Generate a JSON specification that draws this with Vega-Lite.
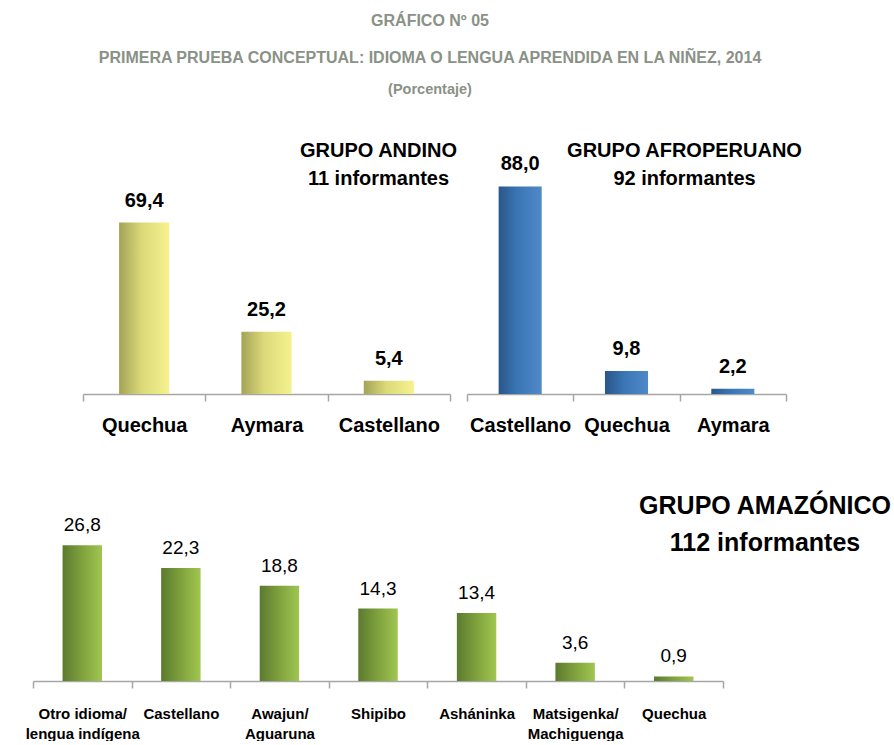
{
  "$schema": "https://vega.github.io/schema/vega-lite/v6.json",
  "background": "white",
  "padding": {"left": 25, "top": 12, "right": 0, "bottom": 0},
  "datasets": {
    "andino": [
      {"idioma": "Quechua", "porcentaje": 69.4},
      {"idioma": "Aymara", "porcentaje": 25.2},
      {"idioma": "Castellano", "porcentaje": 5.4}
    ],
    "afro": [
      {"idioma": "Castellano", "porcentaje": 88.0},
      {"idioma": "Quechua", "porcentaje": 9.8},
      {"idioma": "Aymara", "porcentaje": 2.2}
    ],
    "amazonico": [
      {"idioma": "Otro idioma/ lengua indígena", "porcentaje": 26.8},
      {"idioma": "Castellano", "porcentaje": 22.3},
      {"idioma": "Awajun/ Aguaruna", "porcentaje": 18.8},
      {"idioma": "Shipibo", "porcentaje": 14.3},
      {"idioma": "Asháninka", "porcentaje": 13.4},
      {"idioma": "Matsigenka/ Machiguenga", "porcentaje": 3.6},
      {"idioma": "Quechua", "porcentaje": 0.9}
    ]
  },
  "title": {
    "text": ["GRÁFICO Nº 05", "PRIMERA PRUEBA CONCEPTUAL: IDIOMA O LENGUA APRENDIDA EN LA NIÑEZ, 2014"],
    "subtitle": "(Porcentaje)",
    "font": "Liberation Sans, sans-serif",
    "fontSize": 16,
    "fontWeight": "bold",
    "color": "#8a9186",
    "lineHeight": 37,
    "subtitleFont": "Liberation Sans, sans-serif",
    "subtitleFontSize": 14.5,
    "subtitleFontWeight": "bold",
    "subtitleColor": "#8a9186",
    "subtitlePadding": 17,
    "anchor": "middle",
    "frame": "group",
    "dx": 397,
    "offset": 45
  },
  "spacing": 59,
  "vconcat": [
    {
      "spacing": 8,
      "hconcat": [
        {
          "width": 41,
          "height": 247,
          "data": {"values": [{"v": 0}]},
          "mark": {"type": "point", "opacity": 0},
          "encoding": {}
        },
        {
          "width": 367,
          "height": 247,
          "data": {"name": "andino"},
          "title": {
            "text": ["GRUPO ANDINO", "11 informantes"],
            "font": "Liberation Sans, sans-serif",
            "fontSize": 20,
            "fontWeight": "bold",
            "color": "#000000",
            "lineHeight": 28,
            "anchor": "middle",
            "frame": "group",
            "baseline": "top",
            "offset": 0,
            "dx": 112,
            "dy": 42
          },
          "encoding": {
            "x": {
              "field": "idioma",
              "type": "nominal",
              "sort": null,
              "scale": {"paddingInner": 0, "paddingOuter": 0},
              "axis": {"title": null, "labelFontSize": 20, "labelPadding": 14}
            },
            "y": {
              "field": "porcentaje",
              "type": "quantitative",
              "scale": {"domain": [0, 100]},
              "axis": null
            }
          },
          "layer": [
            {
              "mark": {
                "type": "bar",
                "width": {"band": 0.41},
                "color": {
                  "gradient": "linear", "x1": 0, "y1": 0, "x2": 1, "y2": 0,
                  "stops": [
                    {"offset": 0, "color": "#a3a356"},
                    {"offset": 0.45, "color": "#dcd97a"},
                    {"offset": 1, "color": "#f5f28e"}
                  ]
                }
              }
            },
            {
              "mark": {
                "type": "text",
                "baseline": "alphabetic",
                "dy": -16,
                "font": "Liberation Sans, sans-serif",
                "fontSize": 20,
                "fontWeight": "bold",
                "color": "#000000"
              },
              "encoding": {"text": {"field": "porcentaje", "type": "quantitative", "format": ".1f", "formatType": "number"}}
            }
          ]
        },
        {
          "width": 319,
          "height": 247,
          "data": {"name": "afro"},
          "title": {
            "text": ["GRUPO AFROPERUANO", "92 informantes"],
            "font": "Liberation Sans, sans-serif",
            "fontSize": 20,
            "fontWeight": "bold",
            "color": "#000000",
            "lineHeight": 28,
            "anchor": "middle",
            "frame": "group",
            "baseline": "top",
            "offset": 0,
            "dx": 58,
            "dy": 42
          },
          "encoding": {
            "x": {
              "field": "idioma",
              "type": "nominal",
              "sort": null,
              "scale": {"paddingInner": 0, "paddingOuter": 0},
              "axis": {"title": null, "labelFontSize": 20, "labelPadding": 14}
            },
            "y": {
              "field": "porcentaje",
              "type": "quantitative",
              "scale": {"domain": [0, 104.7]},
              "axis": null
            }
          },
          "layer": [
            {
              "mark": {
                "type": "bar",
                "width": {"band": 0.405},
                "color": {
                  "gradient": "linear", "x1": 0, "y1": 0, "x2": 1, "y2": 0,
                  "stops": [
                    {"offset": 0, "color": "#2b5689"},
                    {"offset": 0.45, "color": "#3a76b6"},
                    {"offset": 1, "color": "#5089c8"}
                  ]
                }
              }
            },
            {
              "mark": {
                "type": "text",
                "baseline": "alphabetic",
                "dy": -16,
                "font": "Liberation Sans, sans-serif",
                "fontSize": 20,
                "fontWeight": "bold",
                "color": "#000000"
              },
              "encoding": {"text": {"field": "porcentaje", "type": "quantitative", "format": ".1f", "formatType": "number"}}
            }
          ]
        }
      ]
    },
    {
      "width": 690,
      "height": 152,
      "data": {"name": "amazonico"},
      "title": {
        "text": ["GRUPO AMAZÓNICO", "112 informantes"],
        "font": "Liberation Sans, sans-serif",
        "fontSize": 25,
        "fontWeight": "bold",
        "color": "#000000",
        "lineHeight": 37,
        "anchor": "middle",
        "frame": "group",
        "baseline": "top",
        "offset": 0,
        "dx": 387,
        "dy": 40
      },
      "encoding": {
        "x": {
          "field": "idioma",
          "type": "nominal",
          "sort": null,
          "scale": {"paddingInner": 0, "paddingOuter": 0},
          "axis": {
            "title": null,
            "labelFontSize": 15,
            "labelPadding": 18,
            "labelLineHeight": 20,
            "labelExpr": "indexof(datum.label, '/ ') > 0 ? [slice(datum.label, 0, indexof(datum.label, '/ ') + 1), slice(datum.label, indexof(datum.label, '/ ') + 2)] : datum.label"
          }
        },
        "y": {
          "field": "porcentaje",
          "type": "quantitative",
          "scale": {"domain": [0, 30]},
          "axis": null
        }
      },
      "layer": [
        {
          "mark": {
            "type": "bar",
            "width": {"band": 0.4},
            "color": {
              "gradient": "linear", "x1": 0, "y1": 0, "x2": 1, "y2": 0,
              "stops": [
                {"offset": 0, "color": "#5b7a2f"},
                {"offset": 0.5, "color": "#7fa23d"},
                {"offset": 1, "color": "#a0c650"}
              ]
            }
          }
        },
        {
          "mark": {
            "type": "text",
            "baseline": "alphabetic",
            "dy": -14,
            "font": "Liberation Sans, sans-serif",
            "fontSize": 19,
            "fontWeight": "normal",
            "color": "#000000"
          },
          "encoding": {"text": {"field": "porcentaje", "type": "quantitative", "format": ".1f", "formatType": "number"}}
        }
      ]
    }
  ],
  "config": {
    "locale": {"number": {"decimal": ",", "thousands": ".", "grouping": [3], "currency": ["", ""]}},
    "view": {"stroke": null},
    "axis": {
      "grid": false,
      "domainColor": "#a6a6a6",
      "domainWidth": 1.5,
      "tickColor": "#a6a6a6",
      "tickWidth": 1.5,
      "tickSize": 7,
      "tickBand": "extent",
      "labelAngle": 0,
      "labelFont": "Liberation Sans, sans-serif",
      "labelFontWeight": "bold",
      "labelColor": "#000000",
      "labelOverlap": false
    }
  }
}
